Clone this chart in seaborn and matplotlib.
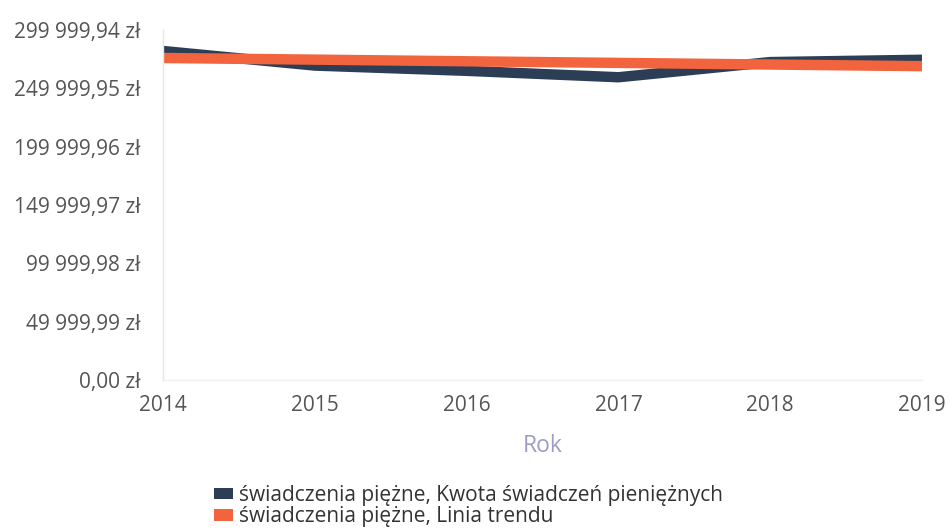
import numpy as np
import pandas as pd
import matplotlib
matplotlib.use('Agg')
import matplotlib.pyplot as plt
from matplotlib.patches import Patch
from matplotlib.ticker import FixedLocator, FuncFormatter
import seaborn as sns

# Data
years = [2014, 2015, 2016, 2017, 2018, 2019]
kwota = [282000, 269500, 265000, 259500, 272500, 274500]
trend = [276000, 274600, 273200, 271800, 270400, 269000]
series_names = ['świadczenia piężne, Kwota świadczeń pieniężnych',
                'świadczenia piężne, Linia trendu']
series_colors = ['#2c3e55', '#f2643d']
y_ticks = [0, 49999.99, 99999.98, 149999.97, 199999.96, 249999.95, 299999.94]

df = pd.DataFrame({
    'Rok': years * 2,
    'value': kwota + trend,
    'series': [series_names[0]] * len(years) + [series_names[1]] * len(years),
})

sns.set_style('white')
plt.rcParams['font.family'] = ['Open Sans', 'DejaVu Sans']

fig = plt.figure(figsize=(9.51, 5.29), dpi=100)
ax = fig.add_axes([163 / 951, 1 - 380 / 529, (922 - 163) / 951, 350 / 529])

sns.lineplot(data=df, x='Rok', y='value', hue='series', hue_order=series_names,
             palette=series_colors, linewidth=7.5, legend=False, ax=ax,
             solid_capstyle='butt')

ax.set_xlim(2014, 2019)
ax.set_ylim(0, 299999.94)
ax.xaxis.set_major_locator(FixedLocator(years))
ax.yaxis.set_major_locator(FixedLocator(y_ticks))


def pln(v, pos):
    s = f'{v:,.2f}'.replace(',', ' ').replace('.', ',')
    return s + ' zł'


ax.yaxis.set_major_formatter(FuncFormatter(pln))
ax.set_xticklabels([str(y) for y in years])
ax.tick_params(axis='both', length=0, labelsize=15, colors='#555555')
ax.tick_params(axis='x', pad=11)
ax.tick_params(axis='y', pad=16)

for side in ['top', 'right']:
    ax.spines[side].set_visible(False)
ax.spines['left'].set_color('#e4e4ef')
ax.spines['bottom'].set_color('#f2f2f6')
ax.spines['left'].set_linewidth(1)
ax.spines['bottom'].set_linewidth(1)

ax.set_ylabel('')
ax.set_xlabel('Rok', fontsize=16.5, color='#9c9cc8', labelpad=13)

handles = [Patch(facecolor=c, edgecolor='none') for c in series_colors]
fig.legend(handles, series_names, loc='upper left', bbox_to_anchor=(214 / 951, 1 - 485 / 529),
           frameon=False, fontsize=15, handlelength=0.9, handleheight=0.45,
           handletextpad=0.3, labelspacing=0.02, borderaxespad=0, borderpad=0,
           labelcolor='#333333')

fig.savefig('out.png', dpi=100)
